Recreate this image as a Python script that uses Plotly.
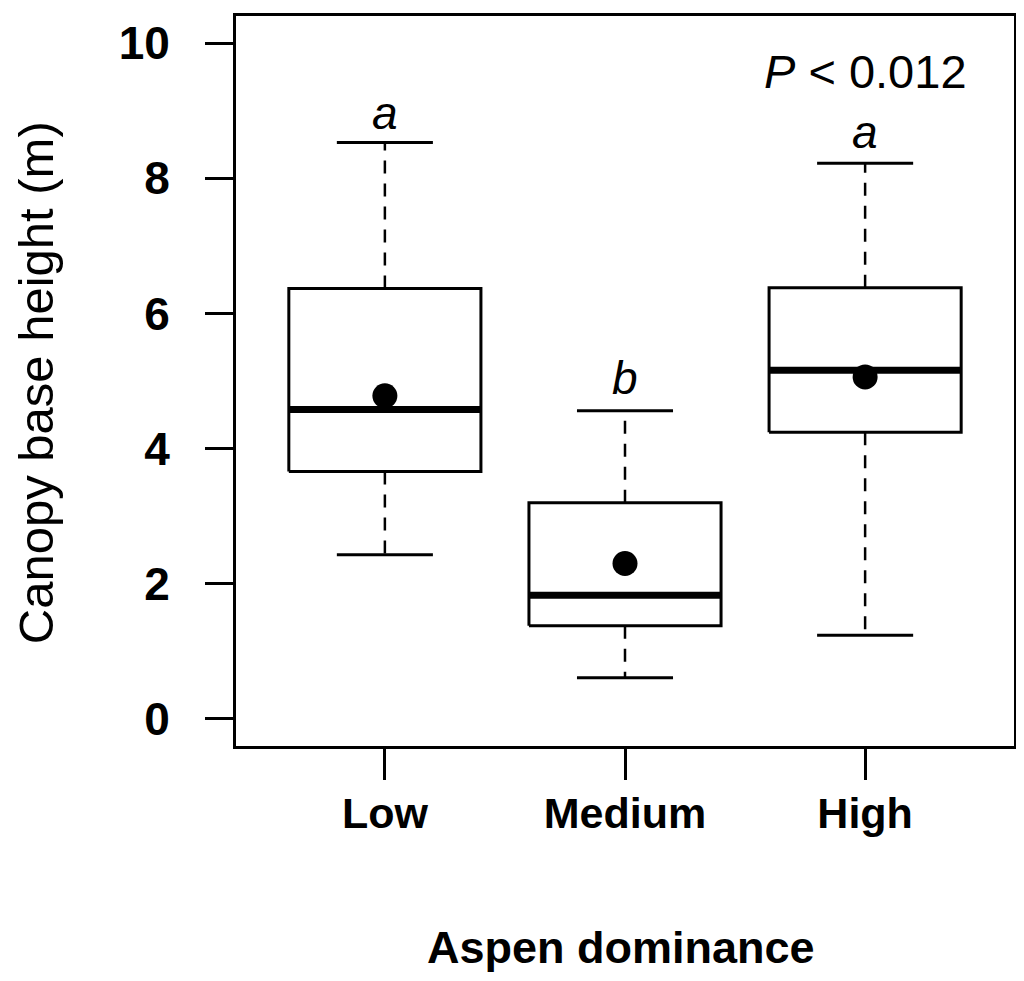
import plotly.graph_objects as go

# values
categories = ["Low", "Medium", "High"]
whisker_low = [2.43, 0.61, 1.24]
q1 = [3.66, 1.38, 4.24]
median = [4.58, 1.83, 5.16]
q3 = [6.37, 3.20, 6.38]
whisker_high = [8.53, 4.56, 8.22]
means = [4.78, 2.30, 5.06]
letters = ["a", "b", "a"]
letter_y = [8.97, 5.04, 8.68]
y_ticks = [0, 2, 4, 6, 8, 10]

FONT = "Liberation Sans, Arial, sans-serif"
BOX_HALF = 0.4
CAP_HALF = 0.2

pos = list(range(1, len(categories) + 1))

fig = go.Figure()

for i, x in enumerate(pos):
    # dashed whiskers, drawn away from the box
    for start, end in [(q3[i], whisker_high[i]), (q1[i], whisker_low[i])]:
        fig.add_trace(go.Scatter(x=[x, x], y=[start, end], mode="lines",
                                 line=dict(color="black", width=2.5, dash="13px,10px"),
                                 hoverinfo="skip"))
    # whisker caps
    for end in [whisker_high[i], whisker_low[i]]:
        fig.add_trace(go.Scatter(x=[x - CAP_HALF, x + CAP_HALF], y=[end, end], mode="lines",
                                 line=dict(color="black", width=3), hoverinfo="skip"))
    # box
    fig.add_trace(go.Scatter(
        x=[x - BOX_HALF, x + BOX_HALF, x + BOX_HALF, x - BOX_HALF, x - BOX_HALF],
        y=[q1[i], q1[i], q3[i], q3[i], q1[i]],
        mode="lines", fill="toself", fillcolor="white",
        line=dict(color="black", width=3), hoverinfo="skip"))
    # median
    fig.add_trace(go.Scatter(x=[x - BOX_HALF, x + BOX_HALF], y=[median[i], median[i]],
                             mode="lines", line=dict(color="black", width=7),
                             hoverinfo="skip"))

fig.add_trace(go.Scatter(x=pos, y=means, mode="markers",
                         marker=dict(color="black", size=25, symbol="circle"),
                         hoverinfo="skip"))

annotations = []
for x, lab, ly in zip(pos, letters, letter_y):
    annotations.append(dict(x=x, y=ly, xref="x", yref="y", text="<i>%s</i>" % lab,
                            showarrow=False, xanchor="center", yanchor="middle",
                            font=dict(family=FONT, size=46, color="black")))

annotations.append(dict(x=3, y=9.58, xref="x", yref="y", text="<i>P</i> &lt; 0.012",
                        showarrow=False, xanchor="center", yanchor="middle",
                        font=dict(family=FONT, size=47, color="black")))

annotations.append(dict(x=-0.257, y=0.497, xref="paper", yref="paper",
                        text="Canopy base height (m)", textangle=-90,
                        showarrow=False, xanchor="center", yanchor="middle",
                        font=dict(family=FONT, size=49, color="black")))

annotations.append(dict(x=0.495, y=-0.276, xref="paper", yref="paper",
                        text="<b>Aspen dominance</b>",
                        showarrow=False, xanchor="center", yanchor="middle",
                        font=dict(family=FONT, size=45, color="black")))

# the page body keeps the browser's 8px margin, so the figure is 8px smaller
fig.update_layout(
    width=1016, height=973,
    margin=dict(l=228, r=10, t=5, b=235),
    paper_bgcolor="white", plot_bgcolor="white",
    showlegend=False,
    annotations=annotations,
    font=dict(family=FONT, color="black"),
)

fig.update_xaxes(range=[0.38, 3.62], tickvals=pos, ticktext=["<b>%s</b>" % c for c in categories],
                 ticks="outside", ticklen=31, tickwidth=3, tickcolor="black",
                 showline=True, linewidth=3, linecolor="black", mirror=True,
                 showgrid=False, zeroline=False, ticklabelstandoff=-4,
                 tickfont=dict(family=FONT, size=43, color="black"))

fig.update_yaxes(range=[-0.4, 10.4], tickvals=y_ticks, ticktext=["<b>%d</b>" % t for t in y_ticks],
                 ticks="outside", ticklen=28, tickwidth=3, tickcolor="black",
                 showline=True, linewidth=3, linecolor="black", mirror=True,
                 showgrid=False, zeroline=False, ticklabelstandoff=26,
                 tickfont=dict(family=FONT, size=46, color="black"))

fig.write_html("out.html")
